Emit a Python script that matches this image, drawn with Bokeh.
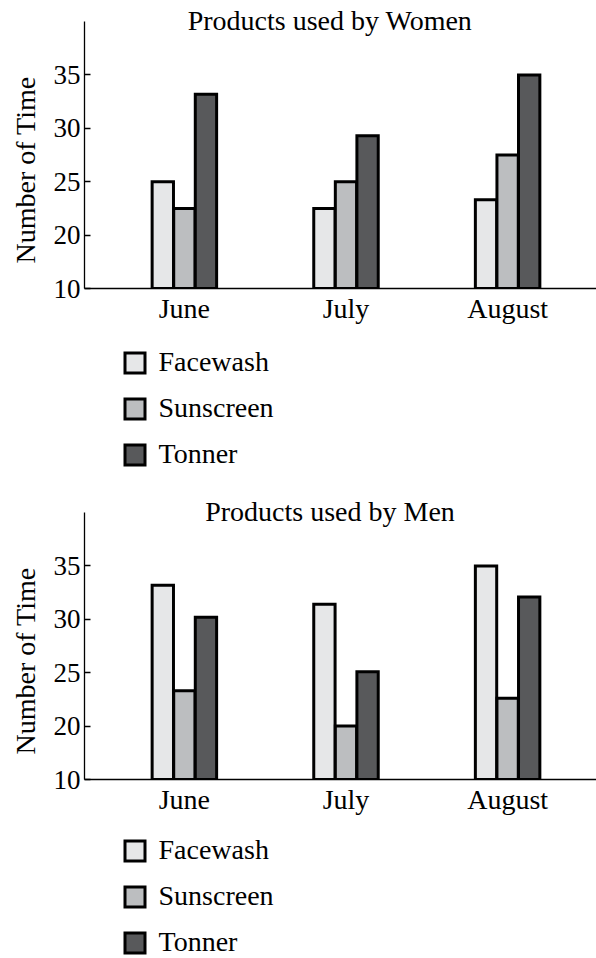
from bokeh.plotting import figure
from bokeh.layouts import column
from bokeh.models import (Range1d, FixedTicker, Legend, LegendItem, Label, Title,
                          ColumnDataSource)
from bokeh.transform import dodge
from bokeh.embed import file_html
from bokeh.resources import INLINE

months = ["June", "July", "August"]
products = ["Facewash", "Sunscreen", "Tonner"]

women_facewash = [25.0, 22.5, 23.3]
women_sunscreen = [22.5, 25.0, 27.5]
women_tonner = [33.2, 29.3, 35.0]

men_facewash = [33.2, 31.4, 35.0]
men_sunscreen = [23.3, 20.0, 22.6]
men_tonner = [30.2, 25.1, 32.1]

y_ticks = [15, 20, 25, 30, 35]
y_tick_labels = ["10", "20", "25", "30", "35"]
y_axis_top = 40
y_title = "Number of Time"

colors = ["#e6e7e8", "#bcbec0", "#58595b"]
FONT = "Liberation Serif"
FS = "28px"
FS_TICK = "27px"
offsets = [-0.1335, 0.0, 0.1335]


def make_chart(title, facewash, sunscreen, tonner, top_border):
    positions = list(range(len(months)))
    src = ColumnDataSource(dict(x=positions, Facewash=facewash,
                                Sunscreen=sunscreen, Tonner=tonner))
    p = figure(frame_width=512, frame_height=283,
               x_range=Range1d(-0.618, 2.55), y_range=Range1d(15, 41.5),
               output_backend="svg", toolbar_location=None,
               min_border_top=top_border, min_border_left=84,
               min_border_right=0, min_border_bottom=45)
    p.outline_line_color = None
    p.xgrid.visible = False
    p.ygrid.visible = False

    for prod, off, col in zip(products, offsets, colors):
        p.vbar(x=dodge("x", off, range=p.x_range), top=prod, bottom=y_ticks[0],
               width=0.132, source=src, fill_color=col,
               line_color="black", line_width=3, line_join="miter")

    xa = p.xaxis[0]
    xa.ticker = FixedTicker(ticks=positions)
    xa.major_label_overrides = {i: m for i, m in zip(positions, months)}
    xa.major_tick_in = 0
    xa.major_tick_out = 0
    xa.minor_tick_in = 0
    xa.minor_tick_out = 0
    xa.major_label_standoff = 4

    ya = p.yaxis[0]
    ya.ticker = FixedTicker(ticks=y_ticks)
    ya.major_label_overrides = {t: l for t, l in zip(y_ticks, y_tick_labels)}
    ya.bounds = (y_ticks[0], y_axis_top)
    ya.major_tick_in = 6
    ya.major_tick_out = 0
    ya.minor_tick_in = 0
    ya.minor_tick_out = 0
    ya.major_label_standoff = 4

    for ax in (xa, ya):
        ax.axis_line_color = "black"
        ax.axis_line_width = 1.3
        ax.major_tick_line_color = "black"
        ax.major_tick_line_width = 1.3
        ax.major_label_text_font = FONT
        ax.major_label_text_color = "black"
    xa.major_label_text_font_size = FS
    ya.major_label_text_font_size = FS_TICK

    # y-axis title, placed in the left panel next to the axis
    yt = Title(text=y_title, align="left", offset=25, vertical_align="middle",
               standoff=17, text_font=FONT, text_font_size=FS,
               text_font_style="normal", text_color="black")
    p.add_layout(yt, "left")

    t = Label(x=positions[1], y=y_axis_top, x_offset=-16, y_offset=1, text=title,
              text_font=FONT, text_font_size=FS, text_color="black",
              text_align="center", text_baseline="alphabetic")
    p.add_layout(t)
    return p, src


def make_legend(src, height, y_loc):
    lp = figure(width=596, height=height, x_range=Range1d(0, 1), y_range=Range1d(0, 1),
                x_axis_type=None, y_axis_type=None, output_backend="svg",
                toolbar_location=None, min_border=0)
    lp.outline_line_color = None
    lp.xgrid.visible = False
    lp.ygrid.visible = False
    items = []
    for prod, off, col in zip(products, offsets, colors):
        r = lp.vbar(x=dodge("x", off), top=prod, bottom=y_ticks[0], width=0.132,
                    source=src, fill_color=col, line_color="black",
                    line_width=3, line_join="miter", visible=False)
        items.append(LegendItem(label=prod, renderers=[r]))
    legend = Legend(items=items, location=(37.5, y_loc), margin=0, padding=0,
                    spacing=14, glyph_width=25, glyph_height=25, label_height=30,
                    label_standoff=12, label_text_font=FONT,
                    label_text_font_size=FS, label_text_color="black",
                    border_line_color=None, background_fill_alpha=0,
                    inactive_fill_alpha=0, orientation="vertical")
    lp.add_layout(legend)
    return lp


p1, s1 = make_chart("Products used by Women", women_facewash, women_sunscreen,
                    women_tonner, 5)
l1 = make_legend(s1, 163, 26)
p2, s2 = make_chart("Products used by Men", men_facewash, men_sunscreen,
                    men_tonner, 0)
l2 = make_legend(s2, 134, 0)

layout = column(p1, l1, p2, l2, spacing=0)
open("out.html", "w").write(file_html(layout, INLINE))
